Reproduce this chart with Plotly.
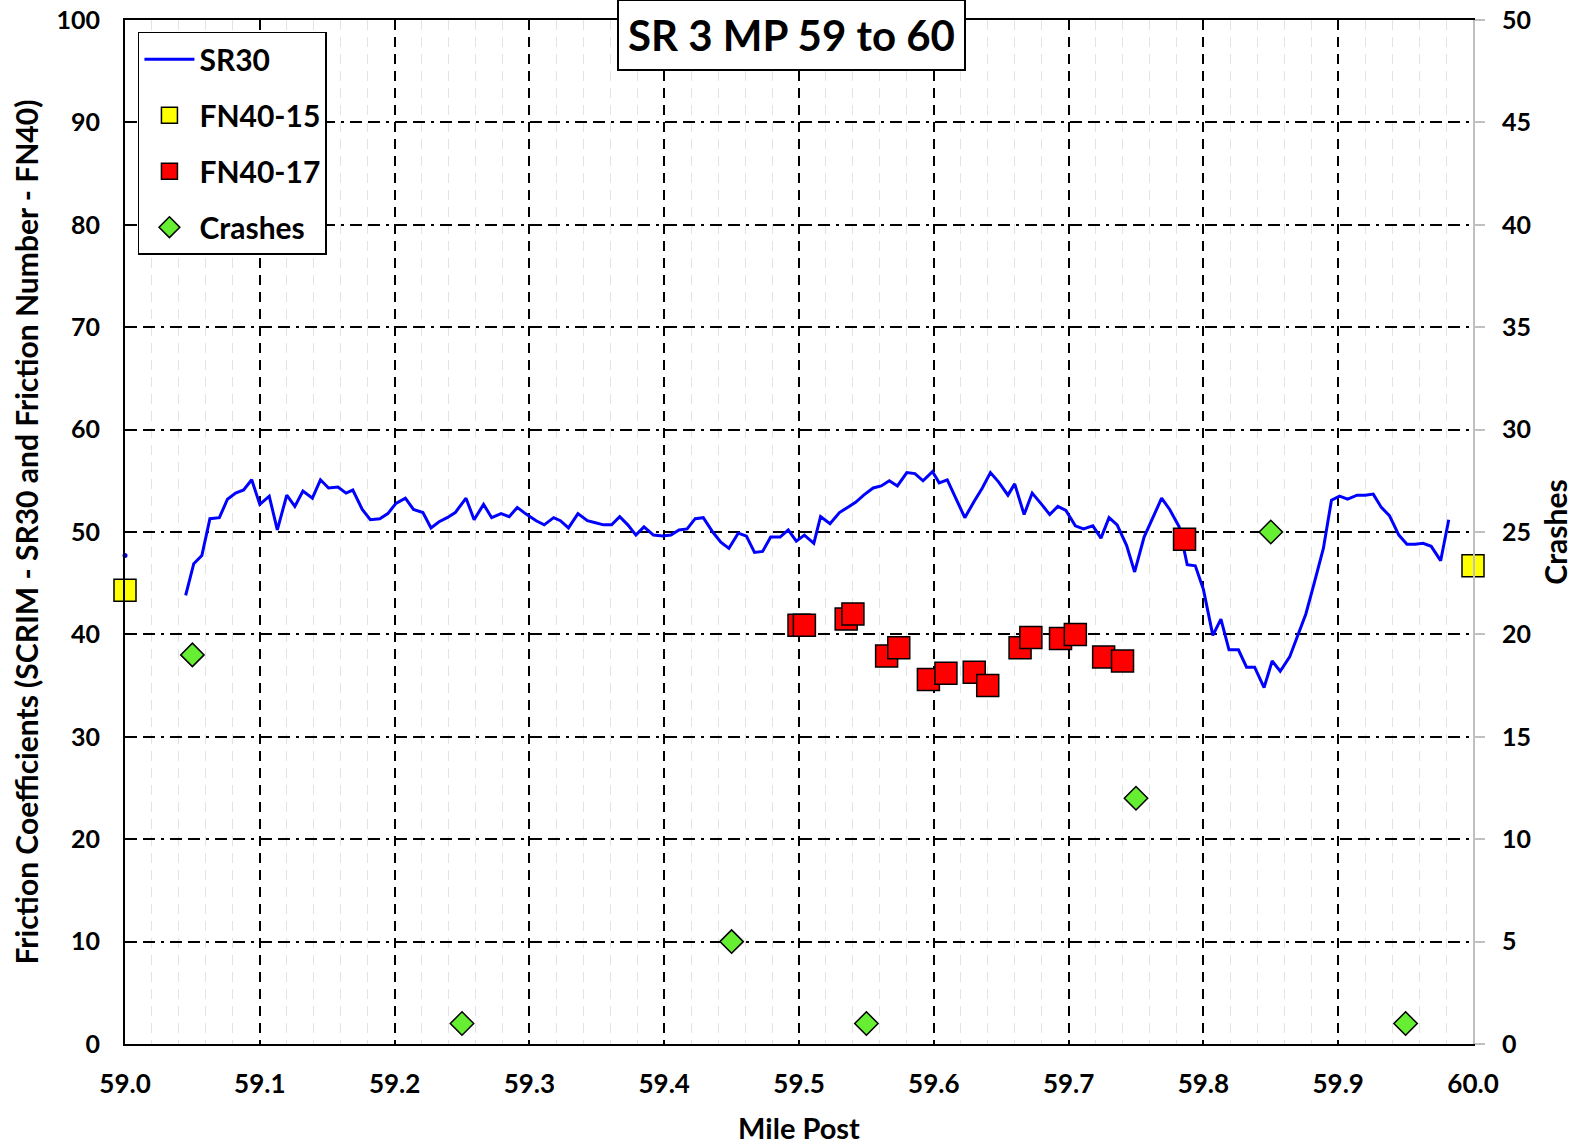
import plotly.graph_objects as go

# SR30 (SCRIM) friction trace
sr30_mp = [59.045, 59.051, 59.057, 59.063, 59.070, 59.076, 59.082, 59.088, 59.094, 59.100,
    59.107, 59.113, 59.120, 59.126, 59.132, 59.139, 59.145, 59.151, 59.158, 59.164,
    59.169, 59.176, 59.182, 59.189, 59.195, 59.201, 59.208, 59.214, 59.221, 59.227,
    59.233, 59.239, 59.245, 59.253, 59.259, 59.266, 59.272, 59.279, 59.285, 59.291,
    59.297, 59.305, 59.311, 59.318, 59.323, 59.329, 59.336, 59.343, 59.349, 59.355,
    59.361, 59.367, 59.373, 59.379, 59.385, 59.392, 59.399, 59.405, 59.411, 59.417,
    59.423, 59.429, 59.436, 59.442, 59.448, 59.455, 59.461, 59.467, 59.473, 59.479,
    59.486, 59.492, 59.498, 59.504, 59.511, 59.516, 59.523, 59.530, 59.536, 59.542,
    59.548, 59.555, 59.561, 59.567, 59.573, 59.580, 59.586, 59.592, 59.599, 59.604,
    59.610, 59.617, 59.623, 59.630, 59.636, 59.642, 59.648, 59.655, 59.660, 59.667,
    59.673, 59.680, 59.686, 59.692, 59.698, 59.705, 59.711, 59.718, 59.724, 59.730,
    59.736, 59.743, 59.749, 59.756, 59.763, 59.769, 59.775, 59.782, 59.788, 59.794,
    59.800, 59.807, 59.813, 59.819, 59.826, 59.832, 59.838, 59.845, 59.851, 59.857,
    59.864, 59.870, 59.876, 59.882, 59.889, 59.895, 59.901, 59.907, 59.914, 59.920,
    59.926, 59.932, 59.938, 59.945, 59.951, 59.957, 59.963, 59.969, 59.976, 59.982]
sr30_val = [43.8, 46.9, 47.7, 51.3, 51.4, 53.2, 53.8, 54.1, 55.1, 52.7,
    53.5, 50.2, 53.6, 52.5, 54.0, 53.3, 55.1, 54.3, 54.4, 53.8,
    54.1, 52.2, 51.2, 51.3, 51.8, 52.8, 53.3, 52.2, 51.9, 50.4,
    51.0, 51.4, 51.9, 53.3, 51.2, 52.7, 51.4, 51.8, 51.5, 52.4,
    51.8, 51.1, 50.7, 51.4, 51.1, 50.4, 51.8, 51.1, 50.9, 50.7,
    50.7, 51.5, 50.7, 49.7, 50.5, 49.7, 49.6, 49.7, 50.2, 50.3,
    51.3, 51.4, 50.0, 49.0, 48.4, 49.9, 49.6, 48.0, 48.1, 49.5,
    49.5, 50.2, 49.1, 49.7, 48.9, 51.5, 50.8, 51.9, 52.4, 52.9,
    53.6, 54.3, 54.5, 55.0, 54.5, 55.8, 55.7, 55.0, 55.9, 54.8,
    55.1, 53.1, 51.4, 53.0, 54.3, 55.8, 54.9, 53.6, 54.7, 51.7,
    53.8, 52.7, 51.7, 52.5, 52.1, 50.6, 50.3, 50.6, 49.4, 51.4,
    50.7, 48.7, 46.1, 49.5, 51.6, 53.3, 52.2, 50.5, 46.8, 46.7,
    44.4, 39.9, 41.5, 38.5, 38.5, 36.8, 36.8, 34.8, 37.4, 36.4,
    37.8, 39.9, 42.0, 44.9, 48.4, 53.1, 53.5, 53.2, 53.6, 53.6,
    53.7, 52.4, 51.6, 49.7, 48.8, 48.8, 48.9, 48.6, 47.2, 51.2]
# isolated first SR30 reading (separated by a data gap)
sr30_start_mp = [59.0]
sr30_start_val = [47.7]

# FN40 friction numbers
fn15_mp = [59.0, 60.0]
fn15_val = [44.3, 46.7]

fn17_mp = [59.500, 59.504, 59.535, 59.540, 59.565, 59.574, 59.596, 59.609, 59.630,
           59.640, 59.664, 59.672, 59.694, 59.705, 59.726, 59.740, 59.786]
fn17_val = [40.9, 40.9, 41.5, 42.0, 37.9, 38.7, 35.6, 36.2, 36.3,
            35.0, 38.7, 39.7, 39.6, 40.0, 37.8, 37.4, 49.3]

# Crashes (right axis)
crash_mp = [59.05, 59.25, 59.45, 59.55, 59.75, 59.85, 59.95]
crash_cnt = [19, 1, 5, 1, 12, 25, 1]

x_ticks = [59.0, 59.1, 59.2, 59.3, 59.4, 59.5, 59.6, 59.7, 59.8, 59.9, 60.0]
y_ticks = [0, 10, 20, 30, 40, 50, 60, 70, 80, 90, 100]
y2_ticks = [0, 5, 10, 15, 20, 25, 30, 35, 40, 45, 50]

FONT = "Lato"
fig = go.Figure()

fig.add_trace(go.Scatter(
    x=sr30_start_mp, y=sr30_start_val, mode="markers", showlegend=False,
    marker=dict(size=5, color="#0000ff"), cliponaxis=False, legendgroup="a"))
fig.add_trace(go.Scatter(
    x=sr30_mp, y=sr30_val, name="SR30", mode="lines",
    line=dict(color="#0000ff", width=3), legendgroup="a"))
fig.add_trace(go.Scatter(
    x=fn15_mp, y=fn15_val, name="FN40-15", mode="markers",
    marker=dict(symbol="square", size=22, color="#ffff00",
                line=dict(color="black", width=1.5)),
    cliponaxis=False, legendgroup="b"))
fig.add_trace(go.Scatter(
    x=fn17_mp, y=fn17_val, name="FN40-17", mode="markers",
    marker=dict(symbol="square", size=22, color="#ff0000",
                line=dict(color="black", width=1.5)),
    legendgroup="c"))
fig.add_trace(go.Scatter(
    x=crash_mp, y=crash_cnt, name="Crashes", mode="markers", yaxis="y2",
    marker=dict(symbol="diamond", size=18, color="#66ee33",
                line=dict(color="black", width=1.5)),
    legendgroup="d"))

fig.update_layout(
    width=1576, height=1146,
    margin=dict(l=125, r=103, t=20, b=102, autoexpand=False),
    paper_bgcolor="white", plot_bgcolor="white",
    font=dict(family=FONT, size=25, color="black"),
    showlegend=True,
    legend=dict(x=0.0096, y=0.9886, xanchor="left", yanchor="top",
                bgcolor="white", bordercolor="black", borderwidth=1.5,
                font=dict(family=FONT, size=30, color="black", weight="bold"),
                tracegroupgap=14, itemsizing="trace", itemwidth=50),
    xaxis=dict(
        range=[59.0, 60.0], tickvals=x_ticks, tickformat=".1f", automargin=False,
        showgrid=True, gridcolor="black", gridwidth=2, griddash="10px,7px",
        minor=dict(dtick=0.02, tick0=59.0, showgrid=True, gridcolor="#e3e3e3", gridwidth=1),
        showline=True, linecolor="black", linewidth=2, mirror=True,
        ticks="", zeroline=False, ticklabelstandoff=16,
        tickfont=dict(family=FONT, size=26, weight="bold"),
        title=dict(text="Mile Post", font=dict(family=FONT, size=29, weight="bold"), standoff=20),
    ),
    yaxis=dict(
        range=[0, 100], tickvals=y_ticks, automargin=False,
        showgrid=True, gridcolor="black", gridwidth=2,
        griddash="12px,6px,12px,6px,3px,6px",
        showline=True, linecolor="black", linewidth=2,
        ticks="inside", ticklen=8, tickcolor="black", tickwidth=1.5,
        ticklabelstandoff=18, zeroline=False,
        tickfont=dict(family=FONT, size=25, weight="bold"),
        title=dict(text="Friction Coefficients (SCRIM - SR30 and Friction Number - FN40)",
                   font=dict(family=FONT, size=30, weight="bold"), standoff=9),
    ),
    yaxis2=dict(
        range=[0, 50], tickvals=y2_ticks, overlaying="y", side="right", automargin=False,
        showgrid=False, showline=True, linecolor="#c0c0c0", linewidth=2,
        ticks="outside", ticklen=10, tickcolor="#c0c0c0", tickwidth=1.5,
        ticklabelstandoff=12, zeroline=False,
        tickfont=dict(family=FONT, size=25, weight="bold"),
        title=dict(text="Crashes", font=dict(family=FONT, size=30, weight="bold"), standoff=16),
    ),
    annotations=[dict(
        text="<b>SR 3 MP 59 to 60</b>", xref="paper", yref="paper",
        x=0.4944, y=0.9855, xanchor="center", yanchor="middle", showarrow=False,
        font=dict(family=FONT, size=42, color="black"),
        bgcolor="white", bordercolor="black", borderwidth=2, borderpad=9)],
)

fig.write_html("out.html")
